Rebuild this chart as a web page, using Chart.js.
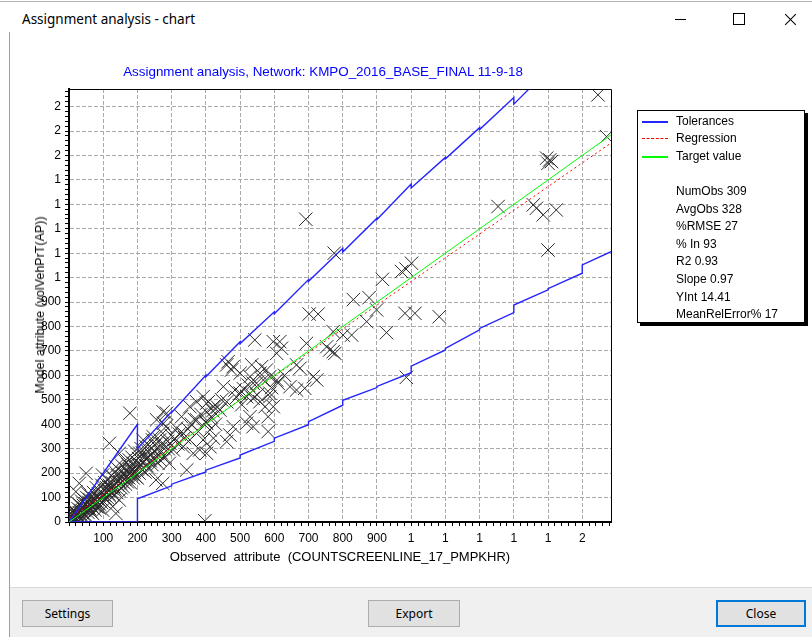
<!DOCTYPE html>
<html><head><meta charset="utf-8">
<script src="https://cdn.jsdelivr.net/npm/chart.js@4.4.1/dist/chart.umd.min.js"></script>
<style>
html,body{margin:0;padding:0;background:#fff;width:812px;height:637px;overflow:hidden;font-family:"Liberation Sans",Arial,sans-serif;}
#wrap{position:relative;width:812px;height:637px;background:#fff;}
.abs{position:absolute;}
#topline{left:0;top:1px;width:812px;height:1px;background:#b4b4b4;}
#leftline{left:9px;top:32px;width:1px;height:605px;background:#a0a0a0;}
#wtitle{left:22px;top:10px;font:13.5px "Segoe UI","Noto Sans",sans-serif;color:#000;white-space:nowrap;}
#minb{left:675px;top:19px;width:11px;height:1px;background:#000;}
#maxb{left:733px;top:13px;width:10px;height:10px;border:1px solid #000;}
.xl{width:15px;height:1px;background:#000;top:19px;left:783px;}
#c{position:absolute;left:0;top:0;}
#ctitle{left:0;top:64px;width:646px;text-align:center;color:#0000ff;font:13.4px "Liberation Sans",Arial,sans-serif;white-space:nowrap;}
#ytitle{left:40px;top:305px;transform:translate(-50%,-50%) rotate(-90deg);font:12.5px "Liberation Sans",Arial,sans-serif;color:#000;white-space:nowrap;}
#legend{left:637px;top:110px;width:166px;height:211px;border:1px solid #000;background:#fff;box-shadow:3px 3px 0 #000;font:12px "Liberation Sans",Arial,sans-serif;color:#000;}
#legend .ln{position:absolute;left:4px;width:26px;}
#legend .tx{position:absolute;left:38px;white-space:nowrap;line-height:14px;}
#panel{left:10px;top:587px;width:802px;height:50px;background:#f0f0f0;border-top:1px solid #d8d8d8;}
.btn{position:absolute;top:600px;height:25px;background:#e1e1e1;border:1px solid #adadad;font:12px "Segoe UI","Noto Sans",sans-serif;color:#000;text-align:center;line-height:25px;}
</style></head>
<body><div id="wrap">
<div class="abs" id="topline"></div>
<div class="abs" id="leftline"></div>
<div class="abs" id="wtitle">Assignment analysis - chart</div>
<div class="abs" id="minb"></div>
<div class="abs" id="maxb"></div>
<div class="abs xl" style="transform:rotate(45deg)"></div>
<div class="abs xl" style="transform:rotate(-45deg)"></div>
<canvas id="c" width="812" height="585"></canvas>
<div class="abs" id="ctitle"></div>
<div class="abs" id="ytitle"></div>
<div class="abs" id="legend"></div>
<div class="abs" id="panel"></div>
<div class="btn" style="left:22px;width:89px;">Settings</div>
<div class="btn" style="left:368px;width:90px;">Export</div>
<div class="btn" style="left:716px;width:86px;border:2px solid #0078d7;height:23px;line-height:23px;">Close</div>
</div>
<script>
// ---- data ----
const chartTitle = 'Assignment analysis, Network: KMPO_2016_BASE_FINAL 11-9-18';
const xAxisTitle = 'Observed  attribute  (COUNTSCREENLINE_17_PMPKHR)';
const yAxisTitle = 'Model attribute (volVehPrT(AP))';
const xTickLabels = ['', '100','200','300','400','500','600','700','800','900','1','1','1','1','1','2'];
const yTickLabels = ['0','100','200','300','400','500','600','700','800','900','1','1','1','1','1','2','2','2'];
const xRange = [0, 1584];
const yRange = [0, 1772];
const legendSeries = [
  {label:'Tolerances', color:'#2424ff', dash:false},
  {label:'Regression', color:'#ff0000', dash:true},
  {label:'Target value', color:'#00ff00', dash:false}
];
const statLines = ['NumObs 309','AvgObs 328','%RMSE 27','% In 93','R2 0.93','Slope 0.97','YInt 14.41','MeanRelError% 17'];

const upperTolerance = [[0,0],[200,400],[200,300],[300,452],[300,448],[400,600],[400,594],[500,738],[500,730],[600,860],[600,852],[700,992],[700,985],[800,1120],[800,1105],[900,1243],[900,1238],[1000,1383],[1000,1367],[1100,1492],[1100,1486],[1200,1614],[1200,1606],[1300,1737],[1300,1710],[1400,1850]];
const lowerTolerance = [[0,0],[200,0],[200,95],[300,148],[300,155],[400,205],[400,212],[500,262],[500,274],[600,330],[600,343],[700,398],[700,411],[800,478],[800,498],[900,550],[900,555],[1000,611],[1000,638],[1100,704],[1100,710],[1200,786],[1200,792],[1300,857],[1300,888],[1400,950],[1400,955],[1500,1018],[1500,1052],[1584,1106]];
const regressionLine = [[0,14.41],[1584,1551]];
const targetLine = [[0,0],[1584,1584]];

const observations = [
[3,5],[5,18],[6,2],[8,30],[10,45],[11,6],[12,22],[14,35],[15,49],[16,10],[18,40],[19,3],[20,124],[20,28],[22,15],[24,34],[25,77],[26,55],[28,25],[30,158],[30,38],[31,18],[32,70],[34,48],[35,26],[36,12],[37,85],[38,40],[40,60],[41,22],[42,68],[44,50],[45,90],[46,32],[48,75],[50,22],[50,199],[51,55],[52,100],[54,66],[55,40],[56,115],[58,80],[60,55],[61,92],[63,45],[64,70],[66,105],[68,60],[69,35],[70,85],[72,120],[73,68],[75,95],[76,50],[78,80],[80,140],[81,62],[83,100],[84,78],[86,115],[88,58],[89,90],[90,72],[92,125],[93,95],[95,80],[96,150],[98,49],[98,192],[99,105],[100,85],
[102,130],[104,110],[105,160],[107,95],[108,125],[110,140],[112,100],[113,175],[115,130],[116,115],[118,322],[118,150],[120,105],[122,140],[123,190],[125,125],[127,160],[128,63],[130,145],[131,110],[132,180],[134,135],[135,205],[137,35],[137,226],[138,160],[140,120],[141,190],[143,150],[145,170],[146,130],[147,90],[147,281],[148,210],[150,160],[152,140],[153,185],[155,230],[156,165],[158,145],[160,200],[162,175],[163,250],[165,155],[167,215],[168,185],[170,165],[172,235],[173,200],[175,180],[176,254],[178,445],[178,215],[180,160],[181,226],[183,195],[184,265],[186,213],[188,180],[189,240],[190,205],[192,290],[193,225],[195,185],[196,250],[198,210],[200,235],[200,180],
[203,260],[205,200],[207,281],[209,235],[211,300],[213,215],[215,281],[217,336],[218,250],[220,270],[222,205],[225,308],[226,255],[228,230],[230,290],[232,265],[234,215],[236,310],[238,250],[240,275],[242,235],[244,336],[246,349],[248,290],[250,255],[252,315],[254,172],[256,418],[258,280],[260,240],[262,300],[265,336],[266,254],[268,285],[271,320],[274,158],[274,363],[275,451],[276,404],[278,300],[280,265],[283,390],[285,445],[288,330],[290,300],[293,240],[295,322],[298,355],
[305,295],[310,340],[314,384],[318,320],[322,360],[329,431],[334,363],[334,308],[338,345],[344,213],[348,380],[353,472],[353,336],[358,400],[363,281],[366,420],[373,418],[373,492],[378,370],[382,295],[386,440],[392,513],[392,336],[397,5],[400,410],[402,451],[402,404],[402,281],[402,486],[407,492],[412,377],[412,308],[416,430],[420,455],[422,472],[422,343],[428,400],[434,470],[441,458],[446,500],[451,554],[461,329],
[461,492],[461,643],[465,656],[470,356],[475,622],[480,390],[480,636],[485,540],[490,510],[500,527],[500,609],[505,480],[510,545],[519,513],[519,404],[524,560],[529,527],[529,595],[529,431],[534,643],[538,506],[538,390],[538,568],[543,745],[548,568],[550,520],[558,492],[558,609],[563,636],[568,581],[573,472],[577,622],[582,431],[582,370],[587,527],[587,595],[587,513],[592,550],[597,472],[597,738],[607,581],[607,690],[611,568],[616,738],[621,711],[630,600],[646,554],
[665,540],[665,643],[675,629],[689,547],[692,1239],[694,731],[702,851],[714,595],[724,581],[728,851],[753,717],[762,704],[772,697],[772,779],[775,1100],[777,690],[801,765],[826,765],[831,910],[870,820],[877,918],[899,868],[916,993],[928,775],[972,1025],[985,1035],[1001,1059],[982,854],[1011,854],[1082,840],[986,592],[1254,1291],[1357,1298],[1366,1284],[1386,1257],[1424,1277],[1400,1113],[1396,1489],[1405,1482],[1410,1475],[1400,1468],[1546,1748],[1571,1577]
];

// ---- page texts ----
document.getElementById('ctitle').textContent = chartTitle;
document.getElementById('ytitle').textContent = yAxisTitle;
const lg = document.getElementById('legend');
const rowY = [10, 27, 45];
legendSeries.forEach((s, i) => {
  const ln = document.createElement('div'); ln.className = 'ln';
  ln.style.top = rowY[i] + 'px';
  if (s.dash) { ln.style.height = '0px'; ln.style.borderTop = '1px dashed ' + s.color; }
  else { ln.style.height = '2px'; ln.style.background = s.color; }
  lg.appendChild(ln);
  const tx = document.createElement('div'); tx.className = 'tx';
  tx.style.top = (rowY[i] - 7) + 'px'; tx.textContent = s.label; lg.appendChild(tx);
});
statLines.forEach((t, i) => {
  const tx = document.createElement('div'); tx.className = 'tx';
  tx.style.top = (73 + i * 17.6) + 'px'; tx.textContent = t; lg.appendChild(tx);
});

// ---- chart ----
const toXY = a => a.map(p => ({x: p[0], y: p[1]}));
const isMajor = v => Math.round(v) % 100 === 0 && Math.round(v) > 0;
const gridCol = c => (c.tick && isMajor(c.tick.value)) ? '#a9a9a9' : 'rgba(0,0,0,0)';

const framePlugin = {
  id: 'frame',
  afterDatasetsDraw(chart) {
    const {ctx, chartArea: a} = chart;
    ctx.save();
    ctx.strokeStyle = '#000'; ctx.lineWidth = 1;
    ctx.beginPath();
    ctx.moveTo(a.left, Math.round(a.top) + 0.5);
    ctx.lineTo(Math.round(a.right) + 0.5, Math.round(a.top) + 0.5);
    ctx.lineTo(Math.round(a.right) + 0.5, a.bottom);
    ctx.stroke();
    ctx.restore();
  }
};

Chart.defaults.font.family = '"Liberation Sans", Arial, sans-serif';
Chart.defaults.font.size = 12;
Chart.defaults.color = '#000';

new Chart(document.getElementById('c'), {
  type: 'scatter',
  data: {
    datasets: [
      {label: legendSeries[0].label, data: toXY(upperTolerance), showLine: true, borderColor: legendSeries[0].color, borderWidth: 1.4, pointRadius: 0, clip: 0, order: 2},
      {label: legendSeries[0].label, data: toXY(lowerTolerance), showLine: true, borderColor: legendSeries[0].color, borderWidth: 1.4, pointRadius: 0, clip: 0, order: 2},
      {label: legendSeries[1].label, data: toXY(regressionLine), showLine: true, borderColor: legendSeries[1].color, borderDash: [2, 3], borderWidth: 1, pointRadius: 0, clip: 0, order: 1},
      {label: legendSeries[2].label, data: toXY(targetLine), showLine: true, borderColor: legendSeries[2].color, borderWidth: 1, pointRadius: 0, clip: 0, order: 0},
      {label: 'Observations', data: toXY(observations), pointStyle: 'crossRot', pointRadius: 9.5, borderColor: '#2a2a2a', backgroundColor: '#2a2a2a', borderWidth: 1, clip: 0, order: 10}
    ]
  },
  options: {
    responsive: false, animation: false, devicePixelRatio: 1,
    layout: {padding: {left: 0, top: 89, right: 201, bottom: 18}},
    plugins: {legend: {display: false}, tooltip: {enabled: false}, title: {display: false}},
    scales: {
      x: {
        type: 'linear', position: 'bottom', min: xRange[0], max: xRange[1],
        afterFit: s => { s.height = 45; },
        ticks: {stepSize: 20, autoSkip: false, maxRotation: 0, minRotation: 0, padding: 5, includeBounds: false,
          callback: v => isMajor(v) ? xTickLabels[Math.round(v) / 100] : ''},
        grid: {color: gridCol, lineWidth: 1, tickLength: 4, tickColor: '#000', tickWidth: 1},
        border: {display: true, color: '#000', width: 2, dash: [4, 2]},
        title: {display: true, text: xAxisTitle, color: '#000', font: {size: 13}, padding: {top: 0, bottom: 2}}
      },
      y: {
        type: 'linear', position: 'left', min: yRange[0], max: yRange[1],
        afterFit: s => { s.width = 69; },
        ticks: {stepSize: 20, autoSkip: false, padding: 4, includeBounds: false,
          callback: v => (Math.round(v) % 100 === 0) ? yTickLabels[Math.round(v) / 100] : ''},
        grid: {color: gridCol, lineWidth: 1, tickLength: 4, tickColor: '#000', tickWidth: 1},
        border: {display: true, color: '#000', width: 2, dash: [4, 2]}
      }
    }
  },
  plugins: [framePlugin]
});
</script>
</body></html>
